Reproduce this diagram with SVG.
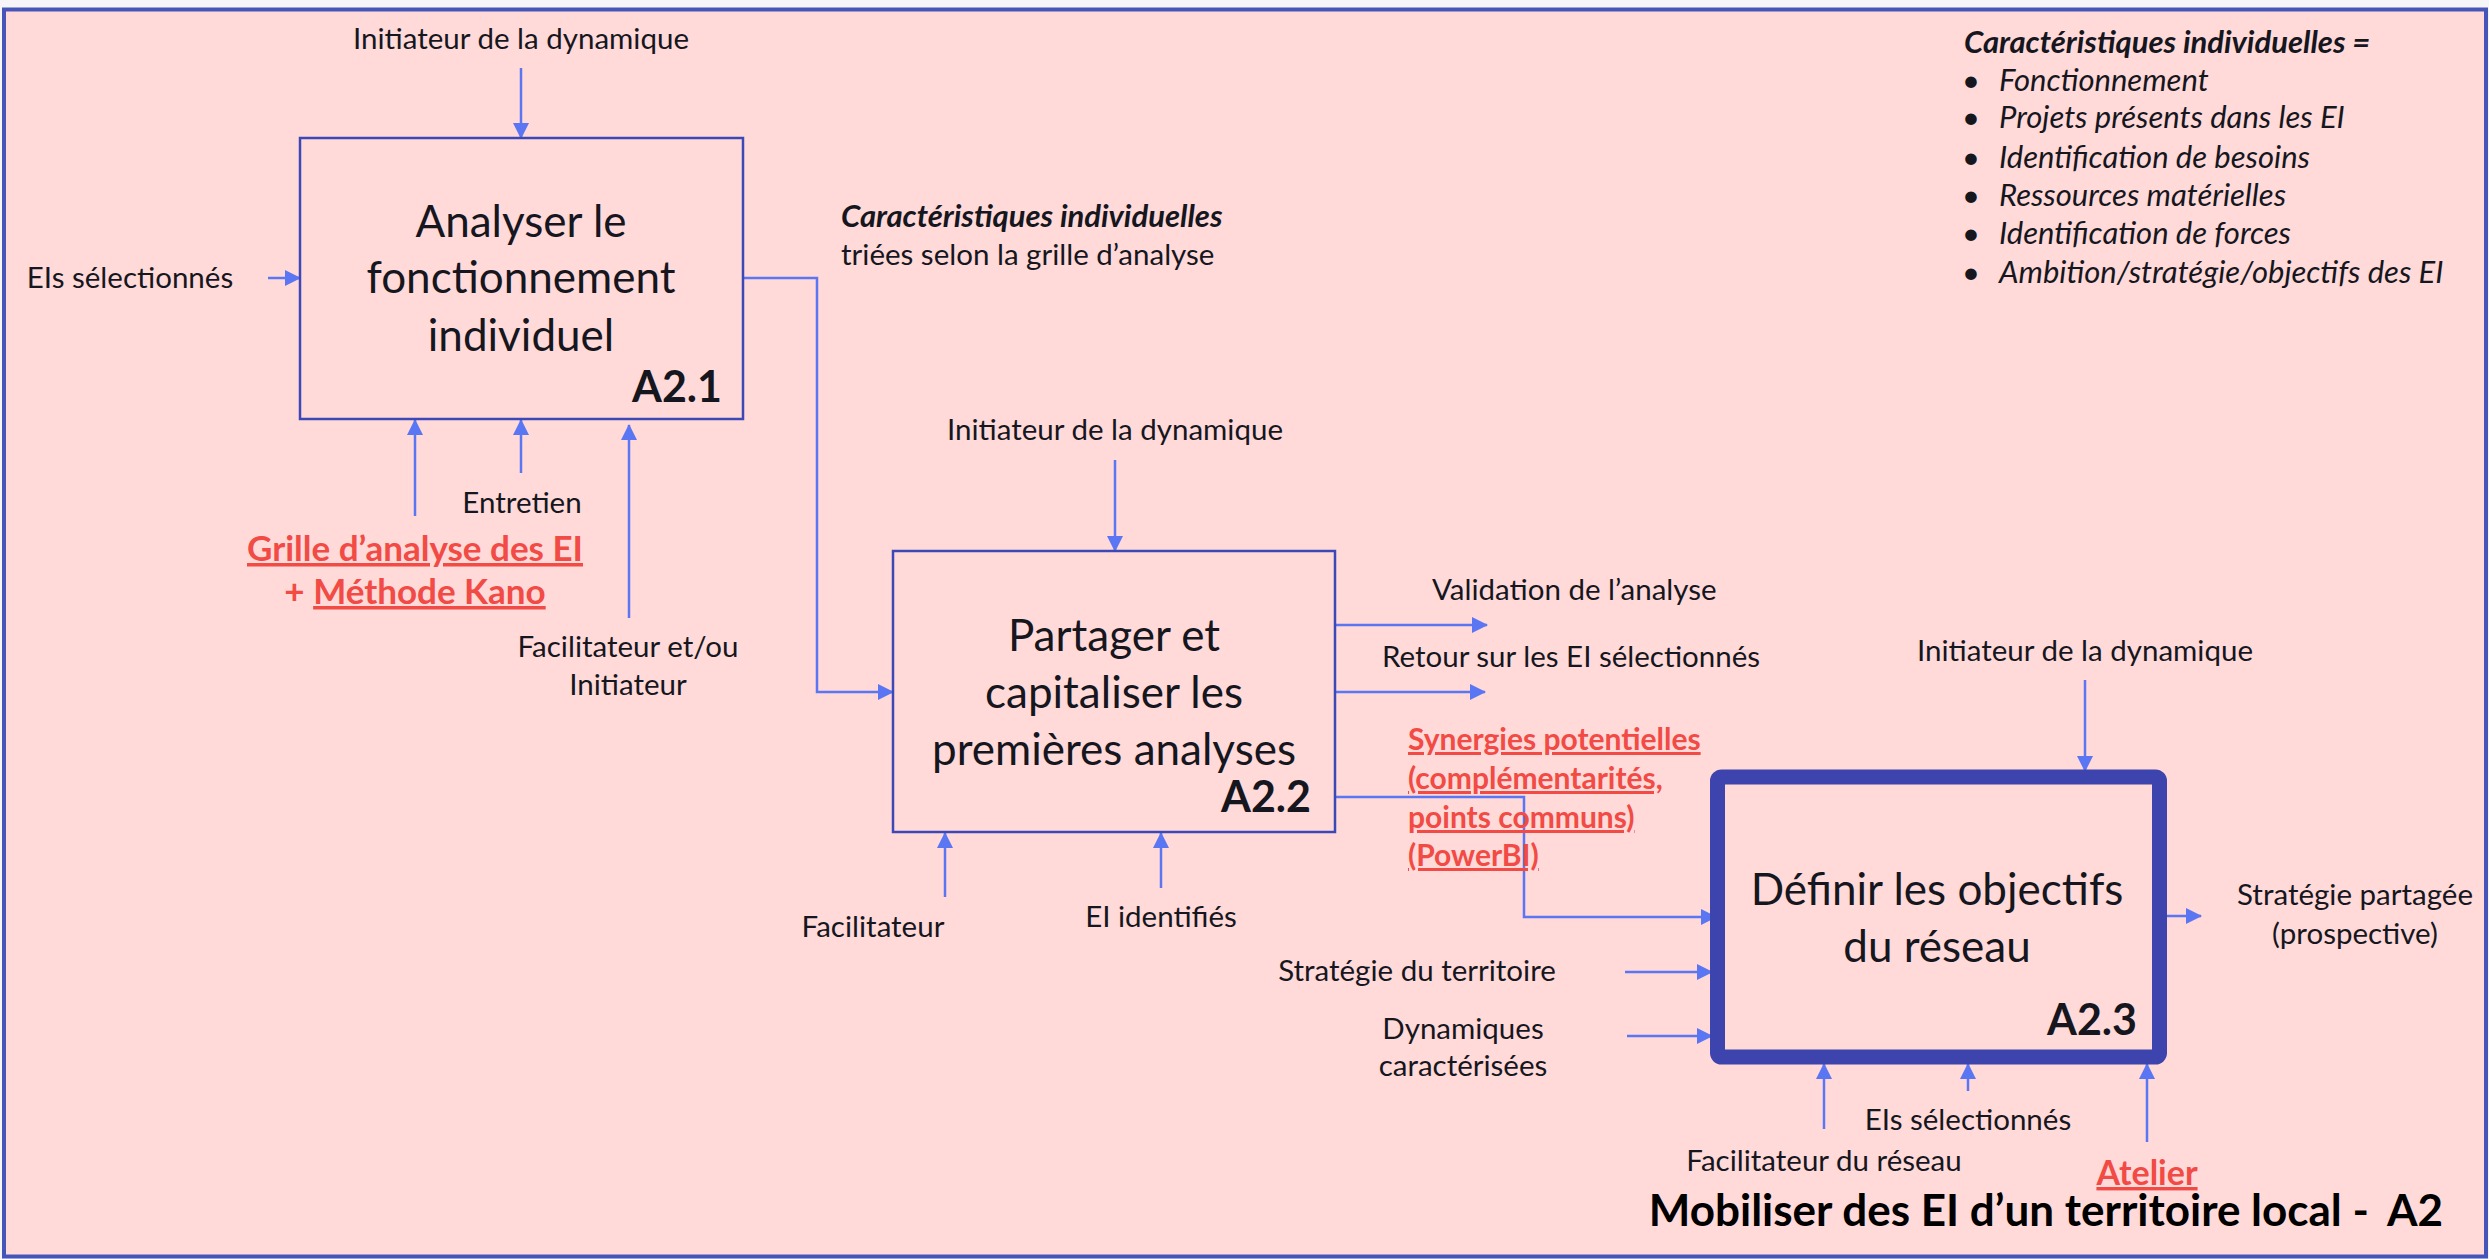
<svg xmlns="http://www.w3.org/2000/svg" width="2489" height="1259" viewBox="0 0 2489 1259">
<style>
text{font-family:Lato,"Noto Sans",sans-serif;fill:#16161f}
.lb{font-size:29.5px}
.bx{font-size:44px}
.id{font-size:43px;font-weight:bold}
.red{fill:#f24a45;font-weight:bold;text-decoration:underline}
.it{font-size:31px;font-style:italic}
.bi{font-size:31px;font-style:italic;font-weight:bold}
.c{text-anchor:middle}
.e{text-anchor:end}
.box{fill:none;stroke:#3c48b8;stroke-width:2.5}
.cn{fill:none;stroke:#5a76f2;stroke-width:2.5}
</style>
<defs>
<marker id="ah" markerUnits="userSpaceOnUse" markerWidth="16" markerHeight="16" viewBox="0 0 16 16" refX="15" refY="8" orient="auto">
<path d="M0,0 L16,8 L0,16 z" fill="#5a76f2"/>
</marker>
</defs>
<rect x="0" y="0" width="2489" height="1259" fill="#f6f6f9"/>
<rect id="frame" x="4" y="9.5" width="2482" height="1247" fill="#ffdad8" stroke="#4656b8" stroke-width="4"/>

<g id="connectors">
<line class="cn" x1="521" y1="68" x2="521" y2="138" marker-end="url(#ah)"/>
<line class="cn" x1="268" y1="278" x2="300" y2="278" marker-end="url(#ah)"/>
<line class="cn" x1="415" y1="516" x2="415" y2="420" marker-end="url(#ah)"/>
<line class="cn" x1="521" y1="473" x2="521" y2="420" marker-end="url(#ah)"/>
<line class="cn" x1="629" y1="618" x2="629" y2="425" marker-end="url(#ah)"/>
<polyline class="cn" points="743,278 817,278 817,692 893,692" marker-end="url(#ah)"/>
<line class="cn" x1="1115" y1="460" x2="1115" y2="551" marker-end="url(#ah)"/>
<line class="cn" x1="945" y1="897" x2="945" y2="833" marker-end="url(#ah)"/>
<line class="cn" x1="1161" y1="888" x2="1161" y2="833" marker-end="url(#ah)"/>
<line class="cn" x1="1335" y1="625" x2="1487" y2="625" marker-end="url(#ah)"/>
<line class="cn" x1="1335" y1="692" x2="1485" y2="692" marker-end="url(#ah)"/>
<polyline class="cn" points="1335,797 1524,797 1524,917 1716,917" marker-end="url(#ah)"/>
<line class="cn" x1="2085" y1="680" x2="2085" y2="771" marker-end="url(#ah)"/>
<line class="cn" x1="1625" y1="972" x2="1712" y2="972" marker-end="url(#ah)"/>
<line class="cn" x1="1627" y1="1036" x2="1712" y2="1036" marker-end="url(#ah)"/>
<line class="cn" x1="1824" y1="1129" x2="1824" y2="1064" marker-end="url(#ah)"/>
<line class="cn" x1="1968" y1="1091" x2="1968" y2="1064" marker-end="url(#ah)"/>
<line class="cn" x1="2147" y1="1142" x2="2147" y2="1064" marker-end="url(#ah)"/>
<line class="cn" x1="2163" y1="916" x2="2201" y2="916" marker-end="url(#ah)"/>
</g>

<g id="A2.1">
<rect class="box" x="300" y="138" width="443" height="281"/>
<text class="bx c" x="521" y="237">Analyser le</text>
<text class="bx c" x="521" y="293">fonctionnement</text>
<text class="bx c" x="521" y="351">individuel</text>
<text class="id e" x="722" y="402">A2.1</text>
</g>

<g id="A2.2">
<rect class="box" x="893" y="551" width="442" height="281"/>
<text class="bx c" x="1114" y="651">Partager et</text>
<text class="bx c" x="1114" y="708">capitaliser les</text>
<text class="bx c" x="1114" y="765">premières analyses</text>
<text class="id e" x="1311" y="812">A2.2</text>
</g>

<g id="A2.3">
<rect x="1717.5" y="777" width="442" height="280" rx="4" fill="none" stroke="#3e44ae" stroke-width="15"/>
<text class="bx c" x="1937" y="905">Définir les objectifs</text>
<text class="bx c" x="1937" y="962">du réseau</text>
<text class="id e" x="2137" y="1035">A2.3</text>
</g>

<g id="labels">
<text class="lb c" x="521" y="49">Initiateur de la dynamique</text>
<text class="lb c" x="130" y="288">EIs sélectionnés</text>
<text class="lb c" x="522" y="513">Entretien</text>
<text class="red c" style="font-size:35px" x="415" y="561">Grille d’analyse des EI</text>
<text class="c" style="font-size:35px;font-weight:bold;fill:#f24a45" x="415" y="604">+ <tspan style="text-decoration:underline">Méthode Kano</tspan></text>
<text class="lb c" x="628" y="657">Facilitateur et/ou</text>
<text class="lb c" x="628" y="695">Initiateur</text>
<text class="bi" x="841" y="227">Caractéristiques individuelles</text>
<text class="lb" x="841" y="265">triées selon la grille d’analyse</text>
<text class="lb c" x="1115" y="440">Initiateur de la dynamique</text>
<text class="lb" x="1432" y="600">Validation de l’analyse</text>
<text class="lb" x="1382" y="667">Retour sur les EI sélectionnés</text>
<text class="red" style="font-size:30px" x="1408" y="750">Synergies potentielles</text>
<text class="red" style="font-size:30px" x="1408" y="789">(complémentarités,</text>
<text class="red" style="font-size:30px" x="1408" y="828">points communs)</text>
<text class="red" style="font-size:30px" x="1408" y="866">(PowerBI)</text>
<text class="lb c" x="873" y="937">Facilitateur</text>
<text class="lb c" x="1161" y="927">EI identifiés</text>
<text class="lb c" x="2085" y="661">Initiateur de la dynamique</text>
<text class="lb c" x="1417" y="981">Stratégie du territoire</text>
<text class="lb c" x="1463" y="1039">Dynamiques</text>
<text class="lb c" x="1463" y="1076">caractérisées</text>
<text class="lb c" x="2355" y="905">Stratégie partagée</text>
<text class="lb c" x="2355" y="944">(prospective)</text>
<text class="lb c" x="1968" y="1130">EIs sélectionnés</text>
<text class="lb c" x="1824" y="1171">Facilitateur du réseau</text>
<text class="red c" style="font-size:34px" x="2147" y="1185">Atelier</text>
<text class="e" style="font-size:44px;font-weight:bold;fill:#000" x="2443" y="1226">Mobiliser des EI d’un territoire local -<tspan dx="18">A2</tspan></text>
</g>

<g id="legend">
<text class="bi" x="1964" y="53">Caractéristiques individuelles =</text>
<text class="it" x="1962" y="91">•</text><text class="it" x="1999" y="91">Fonctionnement</text>
<text class="it" x="1962" y="128">•</text><text class="it" x="1999" y="128">Projets présents dans les EI</text>
<text class="it" x="1962" y="168">•</text><text class="it" x="1999" y="168">Identification de besoins</text>
<text class="it" x="1962" y="206">•</text><text class="it" x="1999" y="206">Ressources matérielles</text>
<text class="it" x="1962" y="244">•</text><text class="it" x="1999" y="244">Identification de forces</text>
<text class="it" x="1962" y="283">•</text><text class="it" x="1999" y="283">Ambition/stratégie/objectifs des EI</text>
</g>
</svg>
